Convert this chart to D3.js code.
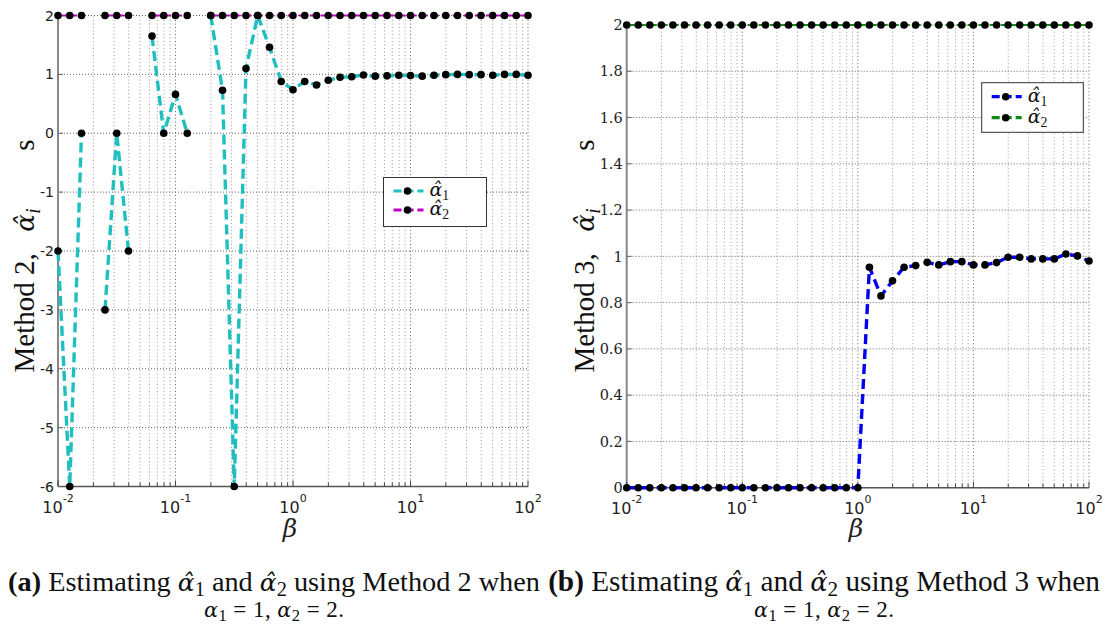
<!DOCTYPE html>
<html><head><meta charset="utf-8">
<script src="https://cdn.jsdelivr.net/npm/d3@7"></script>
<style>body{margin:0;background:#fff}svg{display:block}</style>
</head><body>
<svg id="c" width="1107" height="632"></svg>
<script>
// ---- data ----
const betas = [0.01,0.01259,0.01585,0.01995,0.02512,0.03162,0.03981,0.05012,0.0631,0.07943,
  0.1,0.1259,0.1585,0.1995,0.2512,0.3162,0.3981,0.5012,0.631,0.7943,
  1,1.259,1.585,1.995,2.512,3.162,3.981,5.012,6.31,7.943,
  10,12.59,15.85,19.95,25.12,31.62,39.81,50.12,63.1,79.43,100];
const leftAlpha1 = [-2,-6,0,null,-3,0,-2,null,1.65,0,
  0.66,0,null,2,0.73,-6,1.1,2,1.46,0.88,
  0.74,0.88,0.82,0.9,0.95,0.96,0.99,0.97,0.975,0.985,
  0.98,0.97,0.985,0.995,1.0,0.995,0.995,0.985,1.0,1.0,0.985];
const leftAlpha2 = [2,2,2,null,2,2,2,null,2,2,
  2,2,null,2,2,2,2,2,2,2,
  2,2,2,2,2,2,2,2,2,2,
  2,2,2,2,2,2,2,2,2,2,2];
const rightAlpha1 = [0,0,0,0,0,0,0,0,0,0,
  0,0,0,0,0,0,0,0,0,0,
  0,0.953,0.829,0.894,0.953,0.96,0.974,0.963,0.977,0.977,
  0.963,0.963,0.973,0.996,0.996,0.989,0.989,0.989,1.01,1.002,0.98];
const rightAlpha2 = [2,2,2,2,2,2,2,2,2,2,
  2,2,2,2,2,2,2,2,2,2,
  2,2,2,2,2,2,2,2,2,2,
  2,2,2,2,2,2,2,2,2,2,2];
const xDomain = [0.01, 100];
const xTickExps = [-2,-1,0,1,2];
const leftYTicks = [-6,-5,-4,-3,-2,-1,0,1,2];
const leftYLabels = ["-6","-5","-4","-3","-2","-1","0","1","2"];
const rightYTicks = [0,0.2,0.4,0.6,0.8,1,1.2,1.4,1.6,1.8,2];
const rightYLabels = ["0","0.2","0.4","0.6","0.8","1","1.2","1.4","1.6","1.8","2"];

const svg = d3.select('#c');
const HAT = "\u03B1\u0302";

function rich(g, x, y, parts, fs, opts) {
  opts = opts || {};
  const t = g.append('text').attr('x', x).attr('y', y)
    .attr('font-family', opts.family || 'Liberation Serif')
    .attr('font-size', fs).attr('fill', '#111')
    .attr('text-anchor', opts.anchor || 'start');
  if (opts.transform) t.attr('transform', opts.transform);
  let shift = 0;
  parts.forEach(p => {
    const s = t.append('tspan').text(p.t);
    let target = 0;
    if (p.sub) target = fs * (opts.subShift || 0.25);
    const dy = target - shift;
    if (dy !== 0) s.attr('dy', dy);
    shift = target;
    if (p.dx) s.attr('dx', p.dx);
    if (p.sub) s.attr('font-size', fs * 0.72);
    if (p.sc) s.attr('font-size', fs * p.sc);
    if (p.i) s.attr('font-style', 'italic');
    if (p.b) s.attr('font-weight', 'bold');
    if (p.fam) s.attr('font-family', p.fam);
  });
  return t;
}
function fitRich(g, x, y, parts, fs, target, opts) {
  let t = rich(g, x, y, parts, fs, opts);
  const w = t.node().getComputedTextLength();
  t.remove();
  return rich(g, x, y, parts, fs * target / w, opts);
}

function panel(o) {
  const g = svg.append('g');
  const x = d3.scaleLog().domain(xDomain).range([o.x0, o.x1]);
  const y = d3.scaleLinear().domain(o.yDomain).range([o.yb, o.yt]);
  const xt = x.ticks();
  const isMajor = d => Math.abs(Math.log10(d) - Math.round(Math.log10(d))) < 1e-9;
  // vertical grid
  g.selectAll('.vg').data(xt).enter().append('line')
    .attr('x1', d => x(d)).attr('x2', d => x(d))
    .attr('y1', o.yb).attr('y2', o.yt)
    .attr('stroke', d => isMajor(d) ? '#666' : '#9a9a9a')
    .attr('stroke-width', 1).attr('stroke-dasharray', '1,2.5');
  // horizontal grid
  g.selectAll('.hg').data(o.yTicks).enter().append('line')
    .attr('x1', o.x0).attr('x2', o.x1)
    .attr('y1', d => y(d)).attr('y2', d => y(d))
    .attr('stroke', '#666').attr('stroke-width', 1).attr('stroke-dasharray', '1,2');
  // axes
  g.append('line').attr('x1', o.x0).attr('x2', o.x1).attr('y1', o.yb).attr('y2', o.yb)
    .attr('stroke', '#555').attr('stroke-width', 1.6);
  g.append('line').attr('x1', o.x0).attr('x2', o.x0).attr('y1', o.yb).attr('y2', o.yt)
    .attr('stroke', '#888').attr('stroke-width', 2);
  // x ticks
  g.selectAll('.xt').data(xt).enter().append('line')
    .attr('x1', d => x(d)).attr('x2', d => x(d))
    .attr('y1', o.yb).attr('y2', d => isMajor(d) ? o.yb - 6 : o.yb - 4)
    .attr('stroke', '#444').attr('stroke-width', 1);
  // y ticks
  g.selectAll('.yt').data(o.yTicks).enter().append('line')
    .attr('x1', o.x0).attr('x2', o.x0 + 5)
    .attr('y1', d => y(d)).attr('y2', d => y(d))
    .attr('stroke', '#666').attr('stroke-width', 1);
  // x tick labels
  xTickExps.forEach(e => {
    const t = g.append('text').attr('x', x(Math.pow(10, e))).attr('y', o.yb + 26)
      .attr('text-anchor', 'middle').attr('font-family', 'DejaVu Sans')
      .attr('font-size', 16).attr('fill', '#222');
    t.append('tspan').text('10');
    t.append('tspan').text(String(e)).attr('font-size', 11).attr('dy', -11);
  });
  // y tick labels
  o.yTicks.forEach((v, i) => {
    g.append('text').attr('x', o.x0 - 4).attr('y', y(v)).attr('dy', '0.36em')
      .attr('text-anchor', 'end').attr('font-family', o.yFont)
      .attr('font-size', o.yFs).attr('fill', '#222').text(o.yLabels[i]);
  });
  // series
  const pts = arr => betas.map((b, i) => [b, arr[i]]);
  const line = d3.line().defined(d => d[1] != null).x(d => x(d[0])).y(d => y(d[1]));
  o.series.forEach(s => {
    g.append('path').datum(pts(s.data)).attr('d', line)
      .attr('fill', 'none').attr('stroke', s.color).attr('stroke-width', s.w)
      .attr('stroke-dasharray', s.dash);
    g.selectAll(null).data(pts(s.data).filter(d => d[1] != null)).enter().append('circle')
      .attr('cx', d => x(d[0])).attr('cy', d => y(d[1])).attr('r', 3.8).attr('fill', '#000');
  });
  // legend
  const L = o.legend;
  g.append('rect').attr('x', L.x).attr('y', L.y).attr('width', L.w).attr('height', L.h)
    .attr('fill', '#fff').attr('stroke', '#333').attr('stroke-width', 1);
  o.series.forEach((s, i) => {
    const ly = L.rows[i];
    g.append('line').attr('x1', L.x + 10).attr('x2', L.x + 40).attr('y1', ly).attr('y2', ly)
      .attr('stroke', s.color).attr('stroke-width', 3.2).attr('stroke-dasharray', '8,4');
    g.append('circle').attr('cx', L.x + 24).attr('cy', ly).attr('r', 3.8).attr('fill', '#000');
    rich(g, L.x + 46, ly + 5, [{t: HAT, i: true, fam: 'DejaVu Serif'}, {t: s.sub, sub: true}], 19, {subShift: 0.2});
  });
  // x label
  g.append('text').attr('x', o.bx).attr('y', 537).attr('text-anchor', 'middle')
    .attr('font-family', 'DejaVu Serif').attr('font-style', 'italic')
    .attr('font-size', 25).attr('fill', '#222').text('\u03B2');
  // y label: measure, then spread the remaining length over the two math gaps
  const lopts = {anchor: 'middle', transform: `translate(${o.lx},${o.ly}) rotate(-90)`, family: 'Liberation Serif', subShift: 0.2};
  const mk = (g1, g2) => [{t: o.method}, {t: HAT, i: true, fam: 'DejaVu Serif', sc: 0.9, dx: g1},
    {t: 'i', i: true, sub: true}, {t: 's', dx: g2}];
  const tmp = rich(g, 0, 0, mk(0, 0), 29, lopts);
  const extra = Math.max(0, 233 - tmp.node().getComputedTextLength());
  tmp.remove();
  rich(g, 0, 0, mk(extra * 0.2, extra * 0.8), 29, lopts);
}

panel({
  x0: 58, x1: 528, yb: 486.5, yt: 15.5, yDomain: [-6, 2],
  yTicks: leftYTicks, yLabels: leftYLabels, yFont: 'DejaVu Sans', yFs: 14,
  series: [
    {data: leftAlpha1, color: '#1fbfbf', w: 3.4, dash: '10,5', sub: '1'},
    {data: leftAlpha2, color: '#bf00bf', w: 2, dash: '8,3', sub: '2'}
  ],
  legend: {x: 383.5, y: 177.5, w: 103, h: 49, rows: [191, 210]},
  bx: 290, lx: 34, ly: 256, method: 'Method 2, '
});
panel({
  x0: 626.7, x1: 1089, yb: 487.7, yt: 25, yDomain: [0, 2],
  yTicks: rightYTicks, yLabels: rightYLabels, yFont: 'DejaVu Serif', yFs: 14.5,
  series: [
    {data: rightAlpha1, color: '#0000ee', w: 3.4, dash: '10,5', sub: '1'},
    {data: rightAlpha2, color: '#118811', w: 2, dash: '8,3', sub: '2'}
  ],
  legend: {x: 981.7, y: 82.7, w: 101.6, h: 49.6, rows: [96.7, 117.7]},
  bx: 856, lx: 594, ly: 256, method: 'Method 3, '
});

// captions
function caption(letter, method, cx, w1) {
  fitRich(svg, cx, 591, [
    {t: '(' + letter + ')', b: true}, {t: ' Estimating '},
    {t: HAT, i: true, fam: 'DejaVu Serif', sc: 0.88}, {t: '1', sub: true}, {t: ' and '},
    {t: HAT, i: true, fam: 'DejaVu Serif', sc: 0.88}, {t: '2', sub: true},
    {t: ' using Method ' + method + ' when'}
  ], 21, w1, {anchor: 'middle', subShift: 0.18});
  const t = rich(svg, cx, 617, [
    {t: '\u03B1', i: true, fam: 'DejaVu Serif', sc: 0.9}, {t: '1', sub: true}, {t: ' = 1, '},
    {t: '\u03B1', i: true, fam: 'DejaVu Serif', sc: 0.9}, {t: '2', sub: true}, {t: ' = 2.'}
  ], 23, {anchor: 'middle', subShift: 0.18});
  t.attr('textLength', 140).attr('lengthAdjust', 'spacing');
}
caption('a', '2', 274, 532);
caption('b', '3', 824, 552);
</script>
</body></html>
